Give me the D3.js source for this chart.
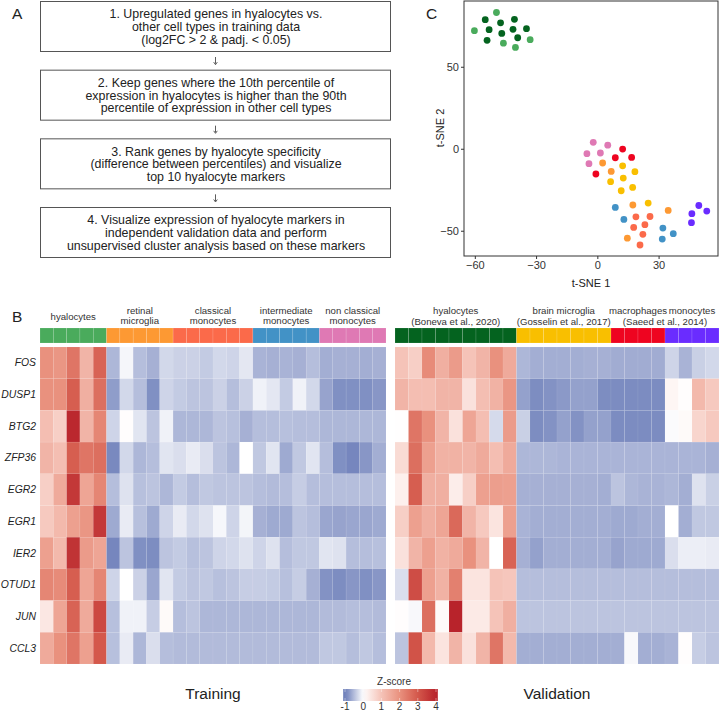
<!DOCTYPE html>
<html><head><meta charset="utf-8">
<script src="https://cdn.jsdelivr.net/npm/d3@7"></script>
<style>
html,body{margin:0;padding:0;background:#fff;}
svg{display:block;font-family:"Liberation Sans",Arial,sans-serif;}
</style></head>
<body><svg id="fig" width="720" height="712"></svg>
<script>
// ---------- DATA ----------
const flowSteps = [
  ["1. Upregulated genes in hyalocytes vs.", "other cell types in training data", "(log2FC > 2 & padj. < 0.05)"],
  ["2. Keep genes where the 10th percentile of", "expression in hyalocytes is higher than the 90th", "percentile of expression in other cell types"],
  ["3. Rank genes by hyalocyte specificity", "(difference between percentiles) and visualize", "top 10 hyalocyte markers"],
  ["4. Visualize expression of hyalocyte markers in", "independent validation data and perform", "unsupervised cluster analysis based on these markers"]
];

const genes = ["FOS","DUSP1","BTG2","ZFP36","EGR2","EGR1","IER2","OTUD1","JUN","CCL3"];

const trainGroupNames = [["hyalocytes"],["retinal","microglia"],["classical","monocytes"],["intermediate","monocytes"],["non classical","monocytes"]];
const trainGroupSizes = [5,5,6,5,5];
const valGroupNames = [["hyalocytes"],["brain microglia"],["macrophages"],["monocytes"]];
const valGroupSizes = [9,7,4,4];
const valGroupSources = [["(Boneva et al., 2020)",0],["(Gosselin et al., 2017)",1],["(Saeed et al., 2014)",2]]; // source label, first group

const trainValues = [
  [2.0,1.9,2.5,1.3,2.8, -0.55,-0.07,-0.5,-0.6,-0.3, -0.35,-0.35,-0.4,-0.3,-0.33,-0.18, -0.58,-0.6,-0.58,-0.6,-0.5, -0.62,-0.6,-0.6,-0.62,-0.6],
  [2.0,2.0,2.9,1.4,2.6, -0.75,-0.3,-0.5,-0.85,-0.33, -0.4,-0.45,-0.45,-0.35,-0.5,-0.35, -0.1,-0.18,-0.4,-0.1,-0.3, -0.7,-0.85,-0.85,-0.85,-0.8],
  [1.1,0.8,3.9,1.3,2.2, -0.33,0.03,-0.2,-0.45,-0.1, -0.55,-0.55,-0.55,-0.45,-0.48,-0.6, -0.5,-0.5,-0.48,-0.5,-0.5, -0.55,-0.55,-0.55,-0.55,-0.55],
  [1.3,1.1,2.9,2.5,2.6, -0.9,-0.3,-0.55,-0.5,-0.2, -0.25,-0.15,-0.25,-0.45,-0.55,0, -0.42,-0.2,-0.65,-0.42,-0.2, -0.5,-0.85,-0.92,-0.8,-0.62],
  [0.8,1.5,3.6,1.6,2.2, -0.5,-0.22,-0.48,-0.45,-0.55, -0.4,-0.5,-0.42,-0.45,-0.45,-0.45, -0.5,-0.52,-0.5,-0.38,-0.5, -0.5,-0.5,-0.5,-0.5,-0.5],
  [0.9,1.2,1.7,1.9,3.6, -0.65,-0.15,-0.48,-0.65,-0.33, -0.15,-0.3,-0.22,-0.06,-0.33,-0.08, -0.6,-0.65,-0.65,-0.45,-0.5, -0.68,-0.7,-0.68,-0.68,-0.65],
  [1.7,1.2,3.7,1.8,1.6, -0.92,-0.45,-0.85,-0.87,-0.45, -0.4,-0.48,-0.45,-0.33,-0.3,-0.22, -0.33,-0.22,-0.5,-0.42,-0.42, -0.2,-0.22,-0.5,-0.5,-0.48],
  [2.2,2.1,2.9,1.6,2.2, -0.33,0,-0.35,-0.68,-0.2, -0.4,-0.45,-0.42,-0.48,-0.45,-0.38, -0.38,-0.4,-0.48,-0.38,-0.6, -0.83,-0.87,-0.8,-0.85,-0.8],
  [0.4,1.6,2.8,1.5,3.3, -0.48,-0.1,-0.1,-0.38,0.08, -0.5,-0.45,-0.55,-0.55,-0.55,-0.55, -0.55,-0.55,-0.55,-0.55,-0.55, -0.52,-0.52,-0.5,-0.5,-0.52],
  [1.5,2.0,2.5,1.7,3.0, -0.48,-0.15,-0.55,-0.25,-0.5, -0.52,-0.52,-0.52,-0.52,-0.52,-0.52, -0.52,-0.52,-0.52,-0.52,-0.52, -0.42,-0.42,-0.5,-0.42,-0.5]
];

const valValues = [
  [1.0,0.8,2.1,1.4,1.8,1.0,1.3,2.0,1.5, -0.55,-0.62,-0.62,-0.62,-0.62,-0.6,-0.6, -0.63,-0.63,-0.63,-0.63, -0.33,-0.58,-0.36,-0.3],
  [1.3,1.1,1.1,1.3,1.3,0.5,1.1,1.35,1.9, -0.72,-0.87,-0.83,-0.78,-0.72,-0.72,-0.87, -0.88,-0.88,-0.88,-0.88, 0.15,0.03,1.2,0.9],
  [0.02,2.5,2.0,1.3,0.5,1.6,1.1,-0.28,1.8, -0.36,-0.87,-0.83,-0.72,-0.83,-0.72,-0.72, -0.88,-0.88,-0.88,-0.88, -0.03,0.08,0.7,0.9],
  [0.6,2.6,1.7,1.35,1.35,1.3,1.5,1.1,1.5, -0.55,-0.55,-0.55,-0.57,-0.57,-0.57,-0.57, -0.57,-0.57,-0.57,-0.57, -0.57,-0.57,-0.57,-0.6],
  [0.25,2.9,1.4,1.4,0.3,0.8,1.7,1.75,1.7, -0.6,-0.6,-0.6,-0.6,-0.6,-0.6,-0.62, -0.45,-0.55,-0.58,-0.58, -0.55,-0.62,-0.22,-0.36],
  [0.8,1.7,1.4,1.6,2.7,1.3,0.9,0.45,1.7, -0.58,-0.62,-0.62,-0.62,-0.62,-0.62,-0.62, -0.65,-0.65,-0.62,-0.62, 0,-0.62,-0.42,-0.42],
  [0.5,1.3,1.7,1.35,1.5,2.0,1.3,0,2.8, -0.6,-0.72,-0.62,-0.62,-0.62,-0.62,-0.62, -0.7,-0.65,-0.65,-0.65, -0.25,-0.13,-0.13,-0.15],
  [-0.25,3.2,1.7,1.35,2.3,0.45,0.45,1.0,0.95, -0.5,-0.5,-0.5,-0.5,-0.5,-0.5,-0.5, -0.5,-0.5,-0.5,-0.5, -0.5,-0.5,-0.5,-0.5],
  [0.03,-0.05,2.6,0.08,4.0,0.35,0.35,1.0,1.4, -0.45,-0.45,-0.45,-0.45,-0.45,-0.45,-0.45, -0.45,-0.45,-0.45,-0.45, -0.45,-0.45,-0.45,-0.45],
  [-0.45,3.1,1.2,0.45,1.3,0.5,1.3,2.5,1.2, -0.62,-0.62,-0.62,-0.62,-0.62,-0.62,-0.62, -0.62,-0.05,-0.62,-0.62, -0.58,0.03,-0.38,-0.45]
];

const zTicks = [-1,0,1,2,3,4];

// t-SNE points, by group (training groups then validation groups)
const tsneGroups = ["hyalocytes (training)","retinal microglia","classical monocytes","intermediate monocytes","non classical monocytes",
                    "hyalocytes (Boneva)","brain microglia","macrophages","monocytes (Saeed)"];
const tsneX = [
  [-49.4,-60.2,-46.0,-40.1,-32.9],
  [2.6,6.8,17.4,34.7,14.7],
  [18.9,25.8,23.3,17.8,22.3,20.9],
  [8.8,13.0,32.1,37.2,31.8],
  [-2.0,5.1,-5.1,1.5,-4.1],
  [-54.9,-47.4,-40.6,-53.0,-46.8,-41.3,-34.7,-54.0,-39.0],
  [12.4,18.4,12.7,6.5,17.3,11.7,24.9],
  [12.4,8.8,16.8,-0.7],
  [49.7,53.6,46.3,46.1]
];
const tsneY = [
  [83.1,72.0,64.4,61.8,66.5],
  [-8.7,-13.8,-34.3,-37.6,-54.5],
  [-41.5,-41.3,-46.3,-48.0,-52.2,-58.7],
  [-35.8,-43.1,-48.4,-51.8,-55.1],
  [3.9,2.2,-3.0,-2.6,-9.1],
  [78.7,76.8,78.9,72.6,70.3,72.8,73.2,66.1,67.7],
  [-10.4,-14.0,-17.9,-20.1,-23.6,-25.6,-33.1],
  [-0.2,-5.5,-5.3,-15.4],
  [-34.6,-38.0,-39.6,-45.1]
];
const tsneXTicks = [-60,-30,0,30];
const tsneYTicks = [-50,0,50];

// ---------- STYLES ----------
const trainColors = ["#4aab5c","#fd9933","#fb6a4a","#4292c6","#df79b4"];
const valColors = ["#04631f","#f9bf00","#ee0420","#6a2cff"];
const tsneColors = trainColors.concat(valColors);
const heatColor = d3.scaleLinear()
  .domain([-1,0,1,2,3,4])
  .range(["#6a7cb8","#ffffff","#f5c3b8","#e9917e","#d4584b","#b8232b"])
  .interpolate(d3.interpolateRgb).clamp(true);

const svg = d3.select("#fig");
const txt = "#222";

// ---------- PANEL A : flowchart ----------
const boxX = d3.scaleLinear().domain([0,1]).range([40,390]);
const boxTop = d3.scaleLinear().domain([0,3]).range([1,207]);
const boxH = 50;
svg.append("text").attr("x",12).attr("y",19).attr("font-size",15.5).attr("fill",txt).text("A");
flowSteps.forEach((lines,i)=>{
  const y0 = boxTop(i);
  svg.append("rect").attr("x",boxX(0)+0.5).attr("y",y0+0.5).attr("width",boxX(1)-boxX(0)).attr("height",boxH)
    .attr("fill","#fff").attr("stroke","#555").attr("stroke-width",1);
  lines.forEach((l,j)=>{
    svg.append("text").attr("x",(boxX(0)+boxX(1))/2+1).attr("y",y0+boxH/2+1+(j-1)*12.6)
      .attr("text-anchor","middle").attr("dominant-baseline","central")
      .attr("font-size",12.4).attr("fill",txt).text(l);
  });
  if(i<flowSteps.length-1){
    const ax=(boxX(0)+boxX(1))/2+0.5, a0=y0+boxH+6, a1=boxTop(i+1)-5;
    svg.append("line").attr("x1",ax).attr("x2",ax).attr("y1",a0).attr("y2",a1-1).attr("stroke","#333").attr("stroke-width",0.8);
    svg.append("path").attr("d",`M${ax-1.8},${a1-2.5}L${ax},${a1}L${ax+1.8},${a1-2.5}`).attr("fill","none").attr("stroke","#333").attr("stroke-width",0.8);
  }
});

// ---------- PANEL C : t-SNE ----------
const px = d3.scaleLinear().domain([-65.3,59.1]).range([464,718]);
const py = d3.scaleLinear().domain([-65.4,90.1]).range([256,1]);
svg.append("text").attr("x",426).attr("y",19).attr("font-size",15.5).attr("fill",txt).text("C");
svg.append("rect").attr("x",464).attr("y",1).attr("width",254).attr("height",255).attr("fill","#fff").attr("stroke","#333").attr("stroke-width",1);
const gx = svg.append("g").attr("transform","translate(0,256)")
  .call(d3.axisBottom(px).tickValues(tsneXTicks).tickSize(3).tickPadding(2).tickFormat(d3.format("d")));
const gy = svg.append("g").attr("transform","translate(464,0)")
  .call(d3.axisLeft(py).tickValues(tsneYTicks).tickSize(3).tickPadding(2).tickFormat(d3.format("d")));
[gx,gy].forEach(g=>{
  g.select(".domain").remove();
  g.selectAll(".tick line").attr("stroke","#333");
  g.selectAll(".tick text").attr("font-size",11).attr("fill","#333").attr("font-family","Liberation Sans, Arial, sans-serif");
});
svg.append("text").attr("x",591).attr("y",287).attr("text-anchor","middle").attr("font-size",11).attr("fill",txt).text("t-SNE 1");
svg.append("text").attr("transform","translate(444,128) rotate(-90)").attr("text-anchor","middle").attr("font-size",11).attr("fill",txt).text("t-SNE 2");
tsneX.forEach((xs,g)=>{
  svg.append("g").selectAll("circle").data(xs.map((x,i)=>[x,tsneY[g][i]])).join("circle")
    .attr("cx",d=>px(d[0])).attr("cy",d=>py(d[1])).attr("r",3.4).attr("fill",tsneColors[g]);
});

// ---------- PANEL B : heatmaps ----------
svg.append("text").attr("x",12).attr("y",322).attr("font-size",15.5).attr("fill",txt).text("B");
const rowY = d3.scaleBand().domain(genes).range([347,664]);
const annTop = 328, annBot = 343;

function heat(values, groupSizes, colors, x0, x1){
  const n = d3.sum(groupSizes);
  const cx = d3.scaleBand().domain(d3.range(n)).range([x0,x1]);
  const grp = [];
  groupSizes.forEach((s,g)=>{for(let k=0;k<s;k++)grp.push(g);});
  const g = svg.append("g");
  g.selectAll("rect.ann").data(grp).join("rect").attr("class","ann")
    .attr("x",(d,i)=>cx(i)).attr("y",annTop).attr("width",cx.bandwidth()).attr("height",annBot-annTop)
    .attr("fill",d=>colors[d]).attr("stroke","rgba(255,255,255,0.25)").attr("stroke-width",0.5);
  const cells=[];
  values.forEach((row,r)=>row.forEach((v,c)=>cells.push({r,c,v})));
  g.selectAll("rect.cell").data(cells).join("rect").attr("class","cell")
    .attr("x",d=>cx(d.c)).attr("y",d=>rowY(genes[d.r])).attr("width",cx.bandwidth()).attr("height",rowY.bandwidth())
    .attr("fill",d=>heatColor(d.v)).attr("stroke","rgba(255,255,255,0.12)").attr("stroke-width",0.5);
  const starts=[]; let acc=0; groupSizes.forEach(s=>{starts.push(acc);acc+=s;});
  return {cx, starts, center:(gi)=>(cx(starts[gi])+cx(starts[gi]+groupSizes[gi]-1)+cx.bandwidth())/2};
}

const tr = heat(trainValues, trainGroupSizes, trainColors, 40, 386);
const va = heat(valValues, valGroupSizes, valColors, 395, 719);

const labFs = 9.6, labCol = "#333";
trainGroupNames.forEach((lines,gi)=>{
  const c = tr.center(gi);
  lines.forEach((l,j)=>{
    const y = lines.length===1 ? 316 : 310 + j*10.8;
    svg.append("text").attr("x",c).attr("y",y).attr("text-anchor","middle").attr("dominant-baseline","central")
      .attr("font-size",labFs).attr("fill",labCol).text(l);
  });
});
valGroupNames.forEach((lines,gi)=>{
  const c = va.center(gi);
  svg.append("text").attr("x",c).attr("y",310).attr("text-anchor","middle").attr("dominant-baseline","central")
    .attr("font-size",labFs).attr("fill",labCol).text(lines[0]);
});
valGroupSources.forEach(([lab,gi])=>{
  const c = gi===2 ? (va.center(2)+va.center(3))/2 : va.center(gi);
  svg.append("text").attr("x",c).attr("y",321).attr("text-anchor","middle").attr("dominant-baseline","central")
    .attr("font-size",labFs).attr("fill",labCol).text(lab);
});

// gene labels
svg.append("g").selectAll("text").data(genes).join("text")
  .attr("x",36).attr("y",d=>rowY(d)+rowY.bandwidth()/2).attr("text-anchor","end").attr("dominant-baseline","central")
  .attr("font-size",10.4).attr("font-style","italic").attr("fill",txt).text(d=>d);

// Training / Validation titles
svg.append("text").attr("x",213).attr("y",699).attr("text-anchor","middle").attr("font-size",15.5).attr("fill",txt).text("Training");
svg.append("text").attr("x",557).attr("y",699).attr("text-anchor","middle").attr("font-size",15.5).attr("fill",txt).text("Validation");

// ---------- colour legend ----------
const lx = d3.scaleLinear().domain([-1,4]).range([345,436]);
const defs = svg.append("defs");
const grad = defs.append("linearGradient").attr("id","zgrad").attr("x1","0%").attr("x2","100%");
d3.range(0,1.0001,0.05).forEach(t=>{
  const v = -1.1 + t*5.2;
  grad.append("stop").attr("offset",(t*100)+"%").attr("stop-color",heatColor(v));
});
svg.append("rect").attr("x",lx(-1.1)).attr("y",689).attr("width",lx(4.1)-lx(-1.1)).attr("height",12).attr("fill","url(#zgrad)");
svg.append("g").selectAll("line").data(zTicks).join("line")
  .attr("x1",d=>lx(d)).attr("x2",d=>lx(d)).attr("y1",689).attr("y2",692).attr("stroke","rgba(255,255,255,0.7)").attr("stroke-width",0.6);
svg.append("g").selectAll("line.b").data(zTicks).join("line").attr("class","b")
  .attr("x1",d=>lx(d)).attr("x2",d=>lx(d)).attr("y1",698).attr("y2",701).attr("stroke","rgba(255,255,255,0.7)").attr("stroke-width",0.6);
svg.append("g").selectAll("text").data(zTicks).join("text")
  .attr("x",d=>lx(d)).attr("y",710).attr("text-anchor","middle").attr("font-size",10).attr("fill","#333").text(d=>d);
svg.append("text").attr("x",394).attr("y",685).attr("text-anchor","middle").attr("font-size",10).attr("fill","#333").text("Z-score");
</script></body></html>
